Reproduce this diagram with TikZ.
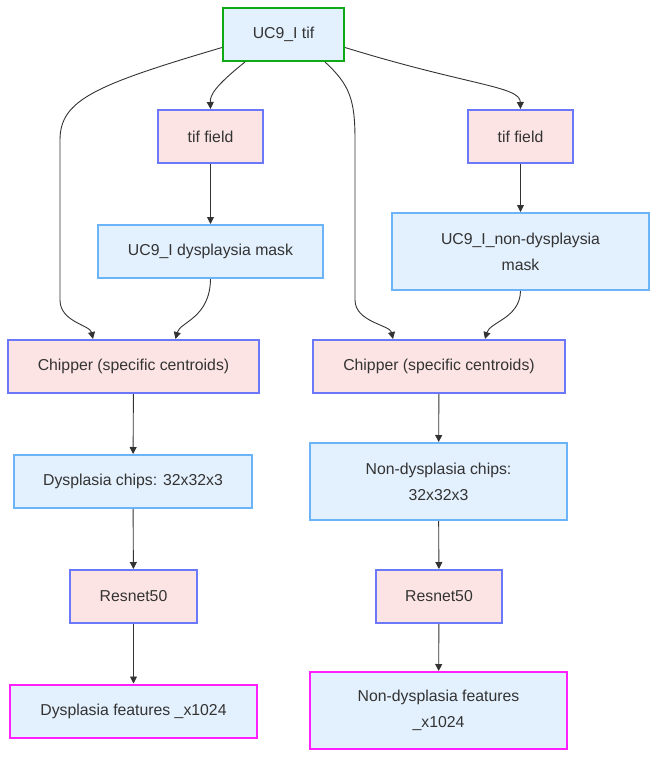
\documentclass[tikz,border=0pt]{standalone}
\usepackage{fontspec}
\setmainfont{Liberation Sans}
\usetikzlibrary{arrows.meta}
\definecolor{bluefill}{HTML}{E3F0FD}
\definecolor{pinkfill}{HTML}{FDE4E4}
\definecolor{blueline}{HTML}{6CB4F8}
\definecolor{purpline}{HTML}{6C78FA}
\definecolor{greenline}{HTML}{0DAA16}
\definecolor{magline}{HTML}{FF1FFF}
\definecolor{txt}{HTML}{333333}
\tikzset{
  base/.style={draw, line width=2pt, inner sep=0pt, align=center, text=txt,
    font=\fontsize{15.8}{26}\selectfont},
  datab/.style={base, fill=bluefill, draw=blueline},
  procb/.style={base, fill=pinkfill, draw=purpline},
  srcb/.style={base, fill=bluefill, draw=greenline},
  outb/.style={base, fill=bluefill, draw=magline},
  link/.style={draw=txt, line width=0.9pt, -{Triangle[length=7pt,width=7pt]}},
}
\begin{document}
\begin{tikzpicture}[x=1pt,y=-1pt]
\useasboundingbox (0,0) rectangle (665,766);
% nodes (center, size)
\node[srcb, minimum width=121, minimum height=53] (top) at (283.5,34.5) {UC9\_I tif};
\node[procb, minimum width=105, minimum height=53] (tfL) at (210.5,136.5) {tif field};
\node[procb, minimum width=105, minimum height=53] (tfR) at (520.5,136.5) {tif field};
\node[datab, minimum width=225, minimum height=53] (mkL) at (210.5,251.5) {UC9\_I dysplaysia mask};
\node[datab, minimum width=257, minimum height=77] (mkR) at (520.5,251.5) {UC9\_I\_non-dysplaysia\\mask};
\node[procb, minimum width=251, minimum height=53] (chL) at (133.5,366.5) {Chipper (specific centroids)};
\node[procb, minimum width=252, minimum height=53] (chR) at (439,366.5) {Chipper (specific centroids)};
\node[datab, minimum width=238, minimum height=53] (cpL) at (133,481.5) {Dysplasia chips: 32x32x3};
\node[datab, minimum width=257, minimum height=77] (cpR) at (438.5,481.5) {Non-dysplasia chips:\\32x32x3};
\node[procb, minimum width=127, minimum height=53] (rnL) at (133.5,596.5) {Resnet50};
\node[procb, minimum width=126, minimum height=53] (rnR) at (439,596.5) {Resnet50};
\node[outb, minimum width=247, minimum height=53] (ftL) at (133.5,711) {Dysplasia features \_x1024};
\node[outb, minimum width=257, minimum height=77] (ftR) at (438.5,710.5) {Non-dysplasia features\\\_x1024};
% connectors
\draw[link] ([yshift=-13]top.west) .. controls (95,85) and (60,100) .. (60,140) -- (60,300)
   .. controls (60,322) and (90,325) .. ([xshift=-40.5]chL.north);
\draw[link] ([xshift=-38.5]top.south) .. controls (215,86) and (210,95) .. (tfL.north);
\draw[link] ([xshift=41.5]top.south) .. controls (350,85) and (355,100) .. (355,140) -- (355,300)
   .. controls (355,322) and (390,325) .. ([xshift=-46]chR.north);
\draw[link] ([yshift=-13]top.east) .. controls (470,86) and (520,86) .. (tfR.north);
\draw[link] (tfL) -- (mkL);
\draw[link] (tfR) -- (mkR);
\draw[link] (mkL.south) .. controls (210,318) and (180,322) .. ([xshift=42]chL.north);
\draw[link] (mkR.south) .. controls (520,318) and (490,322) .. ([xshift=46]chR.north);
\draw[link] (chL) -- (cpL);
\draw[link] (chR) -- (cpR);
\draw[link] (cpL) -- (rnL);
\draw[link] (cpR) -- (rnR);
\draw[link] (rnL) -- (ftL);
\draw[link] (rnR) -- (ftR);
\end{tikzpicture}
\end{document}
